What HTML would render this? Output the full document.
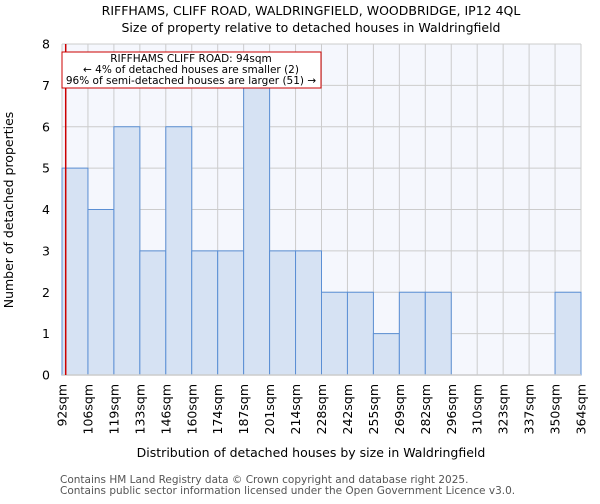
<!DOCTYPE html>
<html><head><meta charset="utf-8"><style>
body{margin:0;background:#fff;font-family:"DejaVu Sans","Liberation Sans",sans-serif;}
svg text{font-family:"DejaVu Sans","Liberation Sans",sans-serif;}
</style></head><body>
<svg id="chart" width="600" height="500" xmlns="http://www.w3.org/2000/svg">
<text x="311" y="15" font-size="12.5" text-anchor="middle">RIFFHAMS, CLIFF ROAD, WALDRINGFIELD, WOODBRIDGE, IP12 4QL</text>
<text x="311" y="32" font-size="12.5" text-anchor="middle">Size of property relative to detached houses in Waldringfield</text>
<rect x="62" y="44" width="519" height="331" fill="#f5f7fd"/>
<g id="grid"></g><g id="bars"></g><g id="axes"></g>
<text transform="translate(13,210) rotate(-90)" font-size="12.5" text-anchor="middle">Number of detached properties</text>
<text x="311" y="457" font-size="12.5" text-anchor="middle">Distribution of detached houses by size in Waldringfield</text>
<text x="60" y="483" font-size="10.5" fill="#555">Contains HM Land Registry data © Crown copyright and database right 2025.</text>
<text x="60" y="494" font-size="10.5" fill="#555">Contains public sector information licensed under the Open Government Licence v3.0.</text>
</svg>
<script>
const edgeLabels=["92sqm","106sqm","119sqm","133sqm","146sqm","160sqm","174sqm","187sqm","201sqm","214sqm","228sqm","242sqm","255sqm","269sqm","282sqm","296sqm","310sqm","323sqm","337sqm","350sqm","364sqm"];
const counts=[5,4,6,3,6,3,3,7,3,3,2,2,1,2,2,0,0,0,0,2];
const yTicks=[0,1,2,3,4,5,6,7,8];
const subjectSize=94;
const edgeValues=[92,106,119,133,146,160,174,187,201,214,228,242,255,269,282,296,310,323,337,350,364];
const NS="http://www.w3.org/2000/svg";
const X0=62,X1=581,Y0=375,Y1=44;
const xi=i=>X0+(X1-X0)*i/counts.length;
const y=v=>Y0-(Y0-Y1)*v/8;
function xv(v){for(let i=0;i<edgeValues.length-1;i++){if(v<=edgeValues[i+1])return xi(i)+(xi(i+1)-xi(i))*(v-edgeValues[i])/(edgeValues[i+1]-edgeValues[i]);}return X1;}
function mk(t,a,p){const e=document.createElementNS(NS,t);for(const k in a)e.setAttribute(k,a[k]);p.appendChild(e);return e;}
const grid=document.getElementById('grid'),bars=document.getElementById('bars'),axes=document.getElementById('axes');
yTicks.forEach(t=>{const l=mk('line',{x1:X0,x2:X1,y1:y(t),y2:y(t),stroke:'#ccc','stroke-width':1},grid);

const tx=mk('text',{x:X0-12,y:y(t)+4.5,'font-size':12.5,'text-anchor':'end'},axes);tx.textContent=t;
});
edgeLabels.forEach((s,i)=>{const l=mk('line',{x1:xi(i),x2:xi(i),y1:Y1,y2:Y0,stroke:'#ccc','stroke-width':1},grid);

const tx=mk('text',{transform:`translate(${xi(i)+4.5},384) rotate(-90)`,'font-size':12.5,'text-anchor':'end'},axes);tx.textContent=s;
});
counts.forEach((c,i)=>{if(c<=0)return;const r=mk('rect',{x:xi(i),y:y(c),width:xi(i+1)-xi(i),height:Y0-y(c),fill:'#d6e2f3',stroke:'#5b8fd4','stroke-width':1},bars);
});
const ax=mk('line',{x1:X0,x2:X1,y1:Y0,y2:Y0,stroke:'#ccc','stroke-width':1.5},axes);

const rl=mk('line',{x1:xv(subjectSize),x2:xv(subjectSize),y1:Y1,y2:Y0,stroke:'#cc0000','stroke-width':1.5},axes);

const g=mk('g',{},axes);
mk('rect',{x:62,y:52,width:259,height:36,fill:'#fff',stroke:'#cc0000','stroke-width':1},g);
[["RIFFHAMS CLIFF ROAD: 94sqm",62],["← 4% of detached houses are smaller (2)",73],["96% of semi-detached houses are larger (51) →",84]].forEach(([s,yy])=>{const t=mk('text',{x:191,y:yy,'font-size':10.5,'text-anchor':'middle'},g);t.textContent=s;});
</script>
</body></html>
